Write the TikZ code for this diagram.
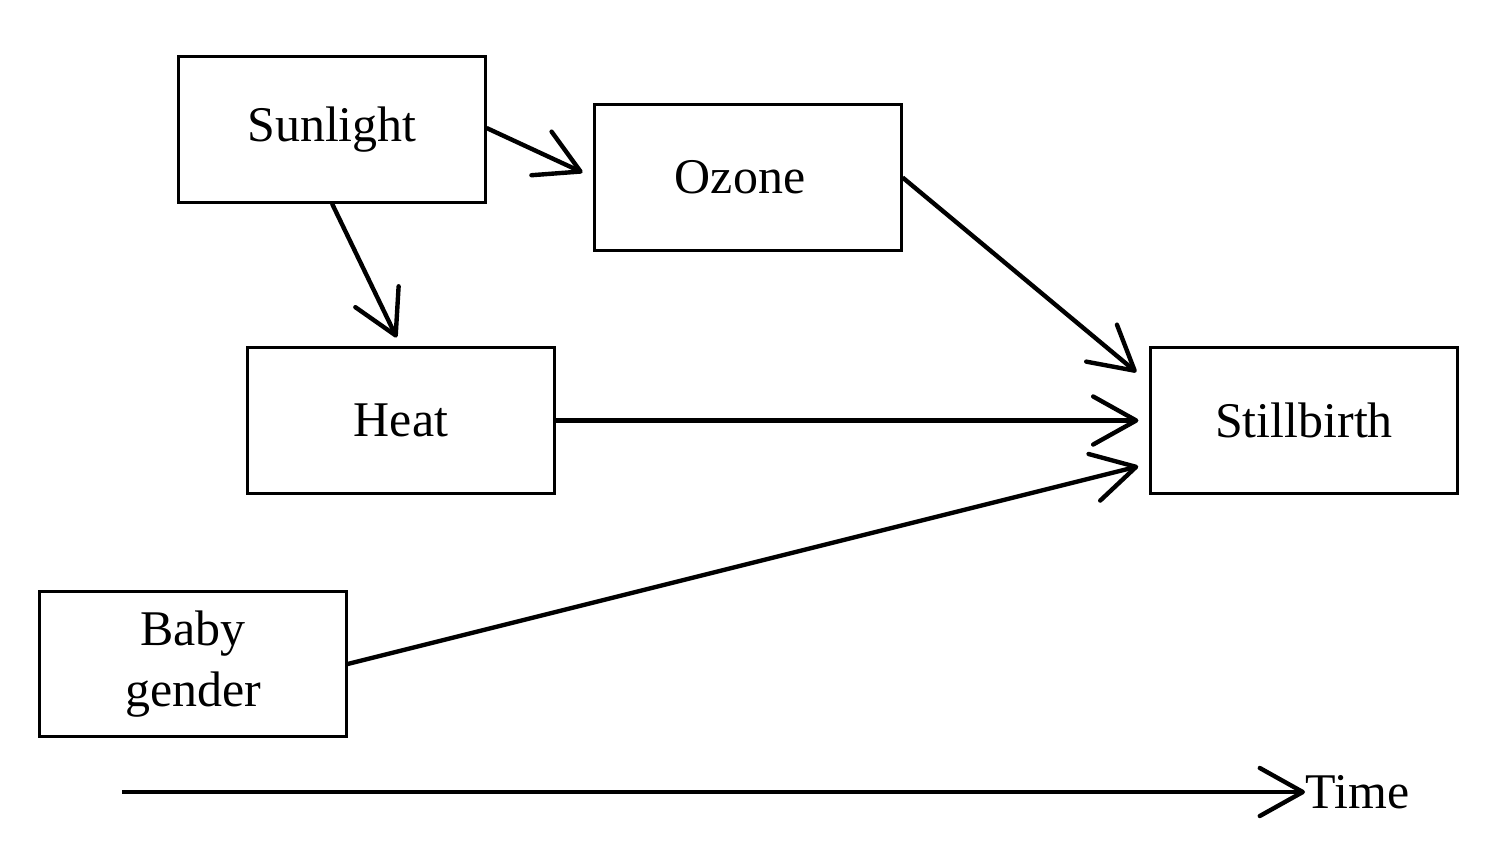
\documentclass[tikz,border=0pt]{standalone}
\usepackage{fontspec}
\setmainfont{Liberation Serif}
\usetikzlibrary{arrows.meta}
\begin{document}
\begin{tikzpicture}[x=0.01cm,y=-0.01cm,
  box/.style={draw, line width=0.85pt, minimum width=3.06cm, minimum height=1.45cm, inner sep=0pt, align=center, font=\fontsize{14.2}{17.2}\selectfont},
  conn/.style={line width=1.25pt, -{Straight Barb[length=0.43cm, width=0.48cm, line cap=round, line join=round]}}]
\useasboundingbox (0,0) rectangle (1500,842);
\node[box] (sun) at (332,129.5) {Sunlight};
\node[box] (oz) at (748,177.5) {Ozone\hspace*{0.16cm}};
\node[box] (heat) at (401,420.5) {Heat};
\node[box] (still) at (1304,420.5) {Stillbirth};
\node[box] (baby) at (193,664) {Baby\\gender};
\coordinate (t0) at (122,792);
\node[anchor=west, inner sep=0pt, font=\fontsize{14.2}{17}\selectfont] (time) at (1305,792) {Time};
\draw[conn, shorten >=0.12cm] ([yshift=0.015cm]sun.east) -- (oz.west);
\draw[conn, shorten >=0.10cm] (sun.south) -- (heat.north);
\draw[conn, shorten >=0.17cm] (oz.east) -- ([yshift=0.375cm]still.west);
\draw[conn, shorten >=0.11cm] (heat.east) -- (still.west);
\draw[conn, shorten >=0.115cm] (baby.east) -- ([yshift=-0.43cm]still.west);
\draw[conn] (t0) -- (time.west);
\end{tikzpicture}
\end{document}
